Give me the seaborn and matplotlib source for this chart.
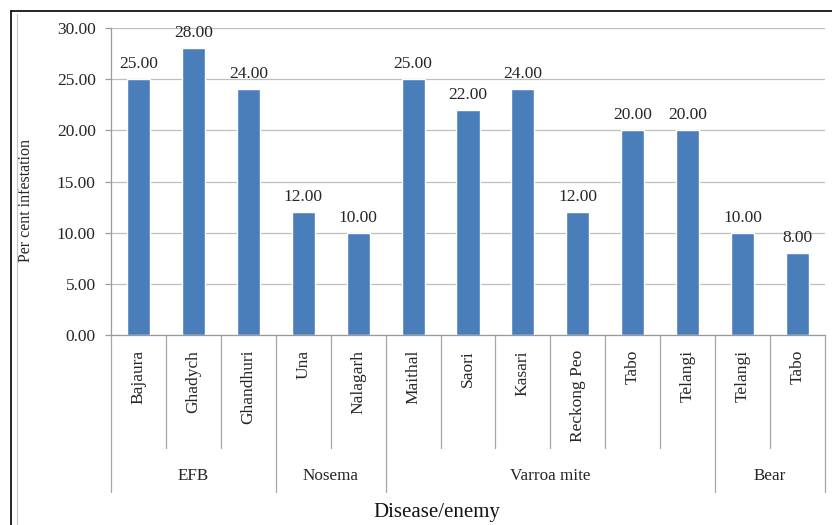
import matplotlib
matplotlib.use("Agg")
import matplotlib.pyplot as plt
import matplotlib.transforms as mtransforms
import seaborn as sns
import pandas as pd

groups = ["EFB", "EFB", "EFB", "Nosema", "Nosema",
          "Varroa mite", "Varroa mite", "Varroa mite", "Varroa mite", "Varroa mite", "Varroa mite",
          "Bear", "Bear"]
sites = ["Bajaura", "Ghadych", "Ghandhuri", "Una", "Nalagarh",
         "Maithal", "Saori", "Kasari", "Reckong Peo", "Tabo", "Telangi",
         "Telangi", "Tabo"]
infestation = [25.0, 28.0, 24.0, 12.0, 10.0, 25.0, 22.0, 24.0, 12.0, 20.0, 20.0, 10.0, 8.0]
y_ticks = [0, 5, 10, 15, 20, 25, 30]

df = pd.DataFrame({
    "key": [f"{g}|{s}" for g, s in zip(groups, sites)],
    "group": groups,
    "site": sites,
    "value": infestation,
})

sns.set_theme(style="white")
plt.rcParams["font.family"] = ["Liberation Serif", "DejaVu Serif"]

TXT = "#262626"
fig = plt.figure(figsize=(8.32, 5.25), dpi=100)
ax = fig.add_axes([111 / 832, 1 - 335 / 525, (825 - 111) / 832, (335 - 28) / 525])

sns.barplot(data=df, x="key", y="value", color="#4a7ebb", saturation=1,
            width=0.42, ax=ax, order=df["key"])

ax.set_ylim(0, 30)
ax.set_xlim(-0.5, len(df) - 0.5)
ax.set_yticks(y_ticks)
ax.set_yticklabels([f"{t:.2f}" for t in y_ticks], fontsize=12.5, color=TXT)
ax.yaxis.grid(True, color="#bfbfbf", linewidth=0.9)
ax.set_axisbelow(True)
ax.tick_params(axis="y", length=4, color="#9a9a9a", width=0.9, pad=7, left=True)
ax.tick_params(axis="x", length=0, bottom=False, labelbottom=False)

for side in ["top", "right"]:
    ax.spines[side].set_visible(False)
for side in ["left", "bottom"]:
    ax.spines[side].set_color("#9a9a9a")
    ax.spines[side].set_linewidth(0.9)

# value labels on top of bars
for i, v in enumerate(df["value"]):
    ax.text(i, v + 0.7, f"{v:.2f}", ha="center", va="bottom", fontsize=12.5, color=TXT)

ax.set_xlabel("")
ax.set_ylabel("Per cent infestation", fontsize=11.5, color=TXT)
ax.yaxis.set_label_coords(-77 / 714, 134 / 307)

# two-level category axis
trans = mtransforms.blended_transform_factory(ax.transData, fig.transFigure)
y_axis = 1 - 335 / 525
y_inner = 1 - 448 / 525
y_outer = 1 - 492 / 525
sep_kw = dict(color="#a6a6a6", linewidth=0.9, clip_on=False, transform=trans)

for i, s in enumerate(df["site"]):
    ax.text(i, 1 - 350 / 525, s, rotation=90, ha="center", va="top",
            fontsize=12.5, color=TXT, transform=trans)

bounds = [0]
for i in range(1, len(groups)):
    if groups[i] != groups[i - 1]:
        bounds.append(i)
bounds.append(len(groups))

for i in range(len(groups) + 1):
    y_end = y_outer if i in bounds else y_inner
    ax.plot([i - 0.5, i - 0.5], [y_axis, y_end], **sep_kw)

for a, b in zip(bounds[:-1], bounds[1:]):
    ax.text((a + b - 1) / 2, 1 - 476 / 525, groups[a], ha="center", va="center",
            fontsize=12.3, color=TXT, transform=trans)

fig.text(437 / 832, 1 - 513 / 525, "Disease/enemy", ha="center", va="center",
         fontsize=15, color="#111111")

# outer frame
fig.add_artist(plt.Line2D([11 / 832, 1], [1 - 11 / 525, 1 - 11 / 525], color="black", linewidth=1.2,
                          transform=fig.transFigure))
fig.add_artist(plt.Line2D([11 / 832, 11 / 832], [0, 1 - 11 / 525], color="black", linewidth=1.2,
                          transform=fig.transFigure))
fig.add_artist(plt.Line2D([17 / 832, 17 / 832], [0, 1 - 14 / 525], color="#c8c8c8", linewidth=0.9,
                          transform=fig.transFigure))

fig.savefig("out.png", dpi=100)
